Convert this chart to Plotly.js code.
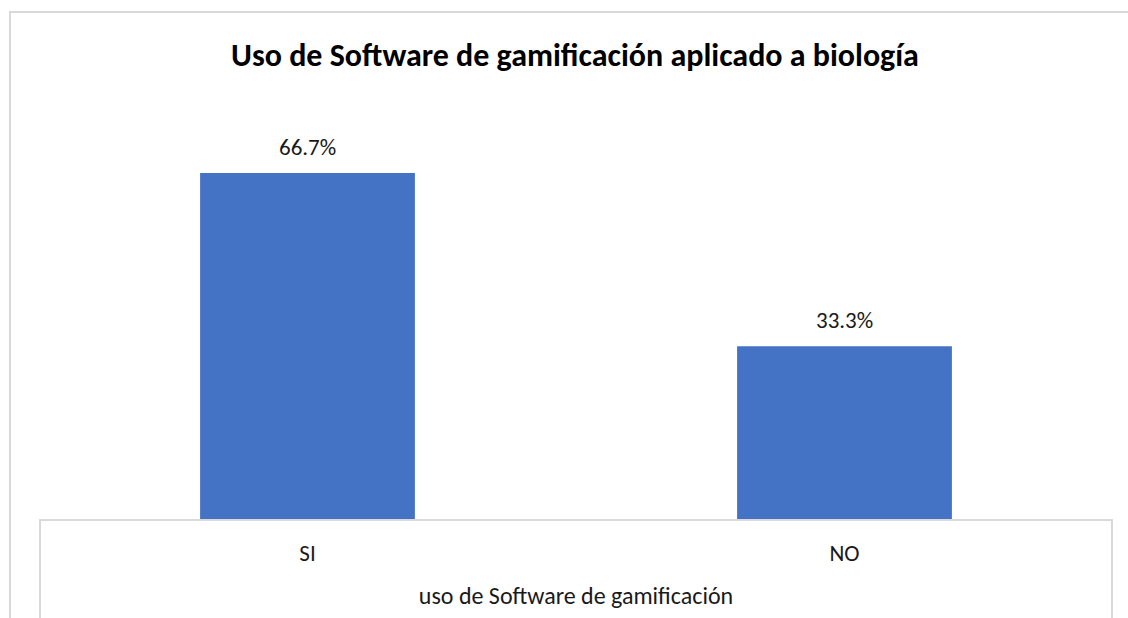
<!DOCTYPE html>
<html>
<head>
<meta charset="utf-8">
<script src="https://cdn.plot.ly/plotly-3.0.1.min.js"></script>
<style>html,body{margin:0;padding:0;background:#fff;}#chart{width:1128px;height:618px;}</style>
</head>
<body>
<div id="chart"></div>
<script>
const categories = ["SI", "NO"];
const values = [66.7, 33.3];
const labels = ["66.7%", "33.3%"];
const chartTitle = "Uso de Software de gamificación aplicado a biología";
const xTitle = "uso de Software de gamificación";

const W = 1128, H = 618;
const L = 39, R = 15, T = 104, B = 99;
const pw = W - L - R, ph = H - T - B;
const px = x => (x - L) / pw;
const py = y => (H - B - y) / ph;

const font = "Calibri, Carlito, 'Open Sans', 'Liberation Sans', sans-serif";
const border = "#d9d9d9";

const trace = {
  type: "bar",
  x: categories,
  y: values,
  width: 0.4,
  marker: {color: "#4472C4"},
  hoverinfo: "skip"
};

const annotations = categories.map((c, i) => ({
  x: c, y: values[i], xref: "x", yref: "y",
  text: labels[i], showarrow: false,
  yanchor: "bottom", yshift: 10,
  font: {family: font, size: 23, color: "#1a1a1a"}
}));

const layout = {
  width: W, height: H,
  margin: {l: L, r: R, t: T, b: B, pad: 0},
  paper_bgcolor: "#fff", plot_bgcolor: "#fff",
  showlegend: false,
  title: {
    text: "<b>" + chartTitle + "</b>",
    font: {family: font, size: 32, color: "#000"},
    x: 575 / W, xanchor: "center", y: 1 - 55 / H, yanchor: "middle"
  },
  xaxis: {
    type: "category",
    range: [-0.5, 1.5],
    showline: true, linecolor: border, linewidth: 2,
    ticks: "", showgrid: false, zeroline: false,
    ticklabelstandoff: 12,
    tickfont: {family: font, size: 23, color: "#1a1a1a"},
    title: {text: xTitle, standoff: 22, font: {family: font, size: 24, color: "#1a1a1a"}}
  },
  yaxis: {
    range: [0, 80],
    visible: false, showgrid: false, zeroline: false
  },
  annotations: annotations,
  shapes: [
    {type: "rect", xref: "paper", yref: "paper",
     x0: px(10), x1: px(1140), y0: py(640), y1: py(12),
     line: {color: border, width: 2}, fillcolor: "rgba(0,0,0,0)", layer: "below"},
    {type: "line", xref: "paper", yref: "paper",
     x0: px(40), x1: px(40), y0: 0, y1: py(640),
     line: {color: border, width: 2}},
    {type: "line", xref: "paper", yref: "paper",
     x0: px(1112), x1: px(1112), y0: 0, y1: py(640),
     line: {color: border, width: 2}}
  ]
};

Plotly.newPlot("chart", [trace], layout, {displayModeBar: false, staticPlot: true});
</script>
</body>
</html>
